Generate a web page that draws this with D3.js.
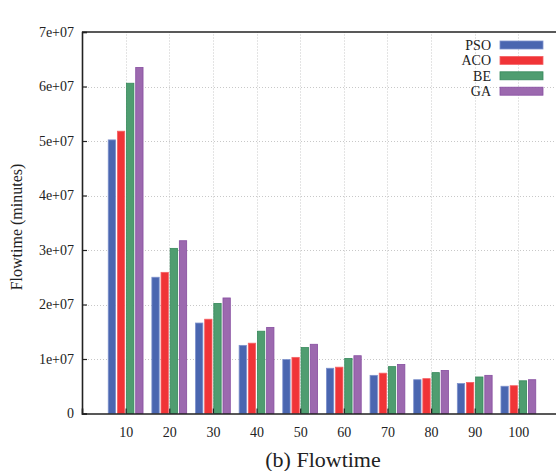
<!DOCTYPE html>
<html>
<head>
<meta charset="utf-8">
<script src="https://cdn.jsdelivr.net/npm/d3@7"></script>
<style>
  body { margin: 0; background: #fff; }
  text { font-family: 'Liberation Serif', 'Times New Roman', serif; fill: #222; }
</style>
</head>
<body>
<div id="chart"></div>
<script>
const categories = [10, 20, 30, 40, 50, 60, 70, 80, 90, 100]
const seriesNames = ['PSO', 'ACO', 'BE', 'GA']
const pso = [5.02e7, 2.5e7, 1.66e7, 1.25e7, 0.99e7, 0.83e7, 0.7e7, 0.62e7, 0.55e7, 0.5e7]
const aco = [5.18e7, 2.59e7, 1.73e7, 1.29e7, 1.03e7, 0.85e7, 0.74e7, 0.64e7, 0.57e7, 0.51e7]
const be = [6.06e7, 3.03e7, 2.02e7, 1.51e7, 1.21e7, 1.01e7, 0.86e7, 0.75e7, 0.67e7, 0.6e7]
const ga = [6.35e7, 3.17e7, 2.12e7, 1.58e7, 1.27e7, 1.06e7, 0.9e7, 0.79e7, 0.7e7, 0.62e7]
const yTicks = [0, 1e7, 2e7, 3e7, 4e7, 5e7, 6e7, 7e7]
const yTickLabels = ['0', '1e+07', '2e+07', '3e+07', '4e+07', '5e+07', '6e+07', '7e+07']

const fills = ['#4a66b0', '#f03437', '#4f9d70', '#9c69af']
const strokes = ['#7d91cc', '#f46265', '#35885a', '#874ea0']

const width = 556
const height = 471
const margin = { top: 32, left: 82, right: -6, bottom: 58 }

const svg = d3
  .select('#chart')
  .append('svg')
  .attr('width', width)
  .attr('height', height)

const x = d3
  .scaleLinear()
  .domain([0, 110])
  .range([margin.left, width - margin.right])

const y = d3
  .scaleLinear()
  .domain([0, 7e7])
  .range([height - margin.bottom + 0.5, margin.top])

const x1 = d3
  .scaleBand()
  .domain(seriesNames)
  .range([-17.4, 17.4])
  .paddingInner(0.2)

const series = [pso, aco, be, ga]

// grid
const grid = svg.append('g').attr('stroke', '#c8c8c8').attr('stroke-dasharray', '1,2')
grid
  .selectAll('.hgrid')
  .data(yTicks.slice(1, -1))
  .enter()
  .append('line')
  .attr('x1', margin.left)
  .attr('x2', width)
  .attr('y1', d => Math.round(y(d)) + 0.5)
  .attr('y2', d => Math.round(y(d)) + 0.5)
grid
  .selectAll('.vgrid')
  .data(categories)
  .enter()
  .append('line')
  .attr('x1', d => Math.round(x(d)) + 0.5)
  .attr('x2', d => Math.round(x(d)) + 0.5)
  .attr('y1', y(0))
  .attr('y2', margin.top)

// bars
series.forEach((vals, i) => {
  svg
    .append('g')
    .selectAll('rect')
    .data(vals)
    .enter()
    .append('rect')
    .attr('x', (d, j) => x(categories[j]) + x1(seriesNames[i]))
    .attr('width', x1.bandwidth())
    .attr('y', d => y(d))
    .attr('height', d => y(0) - y(d))
    .attr('fill', fills[i])
    .attr('stroke', strokes[i])
    .attr('stroke-width', 0.8)
})

// axes
svg
  .append('g')
  .attr('transform', 'translate(' + margin.left + ',0)')
  .call(d3.axisLeft(y).tickValues(yTicks).tickFormat((d, i) => yTickLabels[i]).tickSize(-5).tickPadding(8))
  .call(g => g.selectAll('text').attr('font-size', 14).attr('fill', '#222'))

svg
  .append('g')
  .attr('transform', 'translate(0,' + y(0) + ')')
  .call(d3.axisBottom(x).tickValues(categories).tickSize(-5).tickPadding(14))
  .call(g => g.selectAll('text').attr('font-size', 14).attr('fill', '#222'))

svg.selectAll('.domain').attr('stroke', '#222').attr('stroke-width', 1.6)
svg.selectAll('.tick line').attr('stroke', '#222').attr('stroke-width', 1.2)

// top border
svg
  .append('line')
  .attr('x1', margin.left)
  .attr('x2', width)
  .attr('y1', margin.top)
  .attr('y2', margin.top)
  .attr('stroke', '#222')
  .attr('stroke-width', 1.6)

// legend
const legend = svg.append('g')
seriesNames.forEach((name, i) => {
  const ly = 45 + i * 15.4
  legend
    .append('text')
    .attr('x', 491)
    .attr('y', ly)
    .attr('dy', '0.35em')
    .attr('text-anchor', 'end')
    .attr('font-size', 14)
    .text(name)
  legend
    .append('rect')
    .attr('x', 500)
    .attr('y', ly - 4)
    .attr('width', 43)
    .attr('height', 8)
    .attr('fill', fills[i])
    .attr('stroke', strokes[i])
    .attr('stroke-width', 0.8)
})

// labels
svg
  .append('text')
  .attr('transform', 'translate(22,227) rotate(-90)')
  .attr('text-anchor', 'middle')
  .attr('font-size', 16)
  .text('Flowtime (minutes)')

svg
  .append('text')
  .attr('x', 323)
  .attr('y', 467)
  .attr('text-anchor', 'middle')
  .attr('font-size', 22)
  .text('(b) Flowtime')
</script>
</body>
</html>
